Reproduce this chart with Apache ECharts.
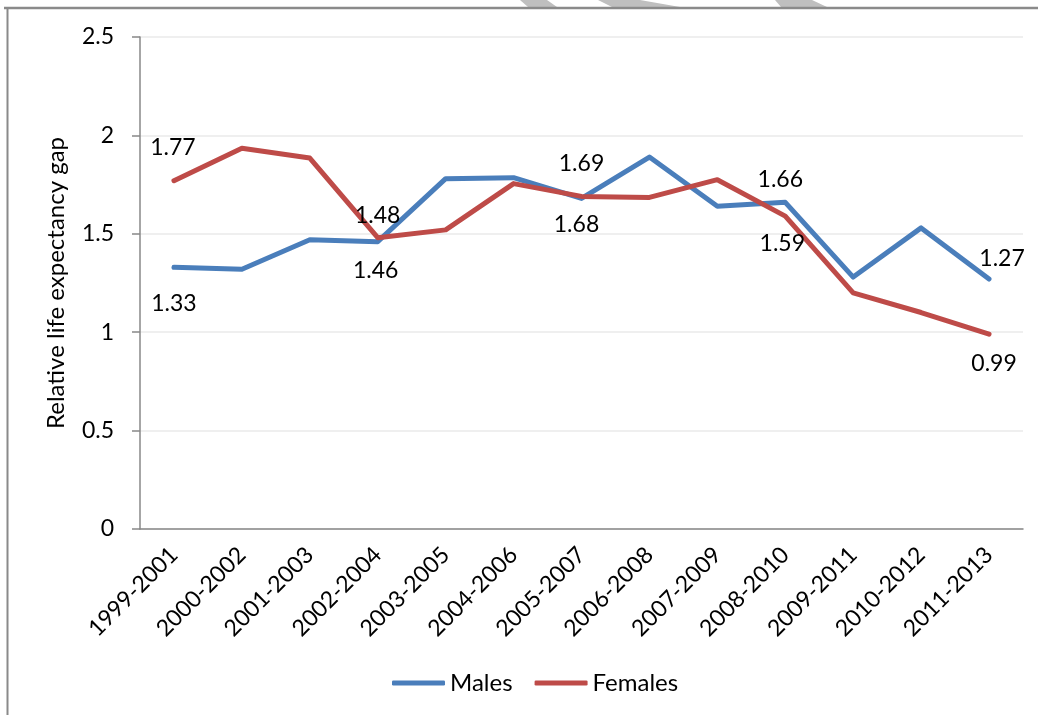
<!DOCTYPE html>
<html>
<head>
<meta charset="utf-8">
<style>
  html, body { margin: 0; padding: 0; background: #fff; }
  #chart { width: 1038px; height: 715px; }
</style>
<script src="https://cdn.jsdelivr.net/npm/echarts@6/dist/echarts.min.js"></script>
</head>
<body>
<div id="chart"></div>
<script>
const categories = ['1999-2001','2000-2002','2001-2003','2002-2004','2003-2005','2004-2006','2005-2007','2006-2008','2007-2009','2008-2010','2009-2011','2010-2012','2011-2013'];
const males   = [1.33, 1.32, 1.47, 1.46, 1.78, 1.785, 1.68, 1.89, 1.64, 1.66, 1.28, 1.53, 1.27];
const females = [1.77, 1.935, 1.885, 1.48, 1.52, 1.755, 1.69, 1.685, 1.775, 1.59, 1.20, 1.10, 0.99];
const yTicks = { min: 0, max: 2.5, interval: 0.5 };

// label placement (offset of label centre from the point, px)
const maleLabelOffsets = { 0: [0, 36], 3: [-2, 29], 6: [-5, 26], 9: [-5, -23], 12: [13, -20] };
const femaleLabelOffsets = { 0: [-1, -33], 3: [0, -22], 6: [0, -33], 9: [-3, 27], 12: [5, 29] };

const FONT = 'Lato';
function buildData(values, offsets) {
  return values.map((v, i) => {
    const o = offsets[i];
    if (!o) return { value: v, label: { show: false } };
    return {
      value: v,
      label: {
        show: true, position: 'inside', offset: o,
        formatter: () => v.toFixed(2),
        color: '#000', fontFamily: FONT, fontSize: 23
      }
    };
  });
}

const chart = echarts.init(document.getElementById('chart'), null, { renderer: 'canvas' });
const frameColor = '#8a8a8a';
const blue = '#4a7ebb', red = '#be4b48';
chart.setOption({
  animation: false,
  backgroundColor: '#fff',
  textStyle: { fontFamily: FONT },
  grid: { left: 140, right: 15, top: 37, bottom: 186, containLabel: false },
  legend: {
    left: 387, top: 666, itemGap: 22, itemWidth: 53, itemHeight: 5,
    icon: 'roundRect',
    textStyle: { fontFamily: FONT, fontSize: 24, color: '#000' },
    data: ['Males', 'Females']
  },
  xAxis: {
    type: 'category', data: categories, boundaryGap: true,
    axisLine: { lineStyle: { color: '#888', width: 1.5 } },
    axisTick: { show: false },
    axisLabel: { rotate: 45, margin: 22, color: '#000', fontFamily: FONT, fontSize: 23, interval: 0 }
  },
  yAxis: {
    type: 'value', min: yTicks.min, max: yTicks.max, interval: yTicks.interval,
    name: 'Relative life expectancy gap', nameLocation: 'middle', nameGap: 72,
    nameTextStyle: { fontFamily: FONT, fontSize: 24, color: '#000' },
    axisLine: { show: true, lineStyle: { color: '#888', width: 1.5 } },
    axisTick: { show: true, length: 8, lineStyle: { color: '#888', width: 1.5 } },
    axisLabel: { margin: 26, color: '#000', fontFamily: FONT, fontSize: 23 },
    splitLine: { lineStyle: { color: '#efefef', width: 2 } }
  },
  series: [
    {
      name: 'Males', type: 'line', data: buildData(males, maleLabelOffsets),
      symbol: 'circle', symbolSize: 2, showSymbol: true,
      itemStyle: { color: blue },
      lineStyle: { color: blue, width: 5, cap: 'round', join: 'round' },
      z: 2
    },
    {
      name: 'Females', type: 'line', data: buildData(females, femaleLabelOffsets),
      symbol: 'circle', symbolSize: 2, showSymbol: true,
      itemStyle: { color: red },
      lineStyle: { color: red, width: 5, cap: 'round', join: 'round' },
      z: 3
    }
  ],
  graphic: [
    { type: 'polygon', shape: { points: [[520, 0], [547, 0], [557, 7], [528, 7]] }, style: { fill: '#bfbfbf' }, silent: true },
    { type: 'polygon', shape: { points: [[598, 0], [640, 0], [680, 7], [612, 7]] }, style: { fill: '#bfbfbf' }, silent: true },
    { type: 'polygon', shape: { points: [[775, 0], [812, 0], [827, 7], [781, 7]] }, style: { fill: '#bfbfbf' }, silent: true },
    { type: 'line', shape: { x1: 4, y1: 8, x2: 1038, y2: 8 }, style: { stroke: frameColor, lineWidth: 2.5 }, silent: true },
    { type: 'line', shape: { x1: 7.5, y1: 7, x2: 7.5, y2: 715 }, style: { stroke: frameColor, lineWidth: 2 }, silent: true }
  ]
});
</script>
</body>
</html>
